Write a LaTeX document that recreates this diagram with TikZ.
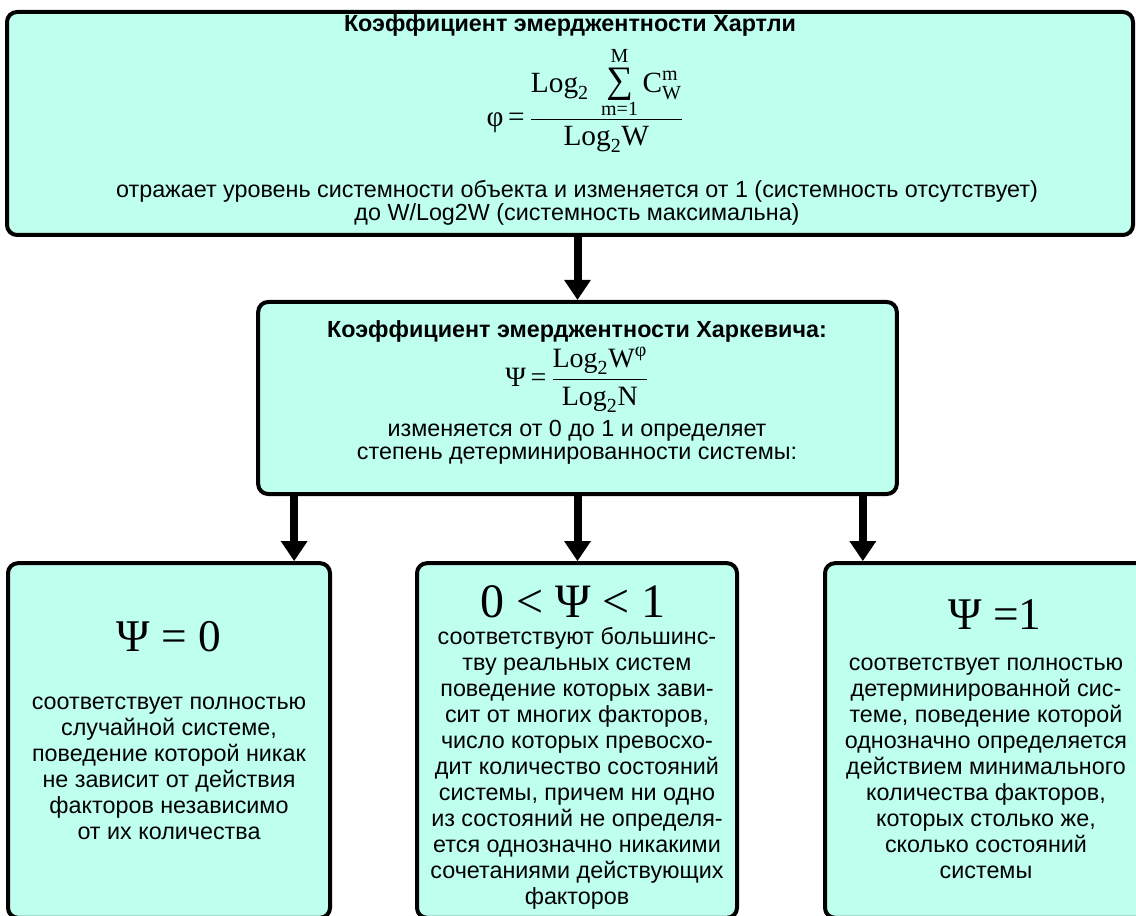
\documentclass[tikz,border=0pt]{standalone}
\usepackage{fontspec}
\setmainfont{Liberation Sans}
\newfontfamily\tnr{Liberation Serif}
\usetikzlibrary{arrows.meta}

\definecolor{boxfill}{RGB}{190,255,238}
\newcommand\tn[1]{\mbox{\tnr #1}}
\newcommand\sub[1]{\mbox{\tnr\fontsize{15}{17}\selectfont #1}}
\newcommand\sumsign{\mbox{\tnr\fontsize{28}{30}\selectfont ∑}}

\tikzset{every picture/.style={line width=0.75pt}}

\begin{document}
\begin{tikzpicture}[x=0.75pt,y=0.75pt,yscale=-1,xscale=1,
  box/.style={draw, line width=3pt, fill=boxfill, rounded corners=7.5pt, inner sep=0pt},
  head/.style={font=\bfseries\fontsize{17.5}{20}\selectfont, inner sep=0pt},
  txt/.style={align=center, font=\fontsize{17.5}{17}\selectfont, inner sep=0pt},
  body/.style={align=center, font=\fontsize{17.5}{19.5}\selectfont, inner sep=0pt},
  frm/.style={font=\tnr\fontsize{22}{26}\selectfont, inner sep=0pt},
  big/.style={font=\tnr\fontsize{34}{40}\selectfont, inner sep=0pt},
  arr/.style={line width=6pt, -{Triangle[width=19pt,length=15pt]}}
]
\useasboundingbox (0,0) rectangle (1136,916);

% Boxes
\node[box, minimum width=844.5pt, minimum height=167.25pt] (hartley) at (570,123.5) {};
\node[box, minimum width=479pt, minimum height=144pt] (kharkevich) at (577.5,398) {};
\node[box, minimum width=241.5pt, minimum height=266pt] (zero) at (169,740.5) {};
\node[box, minimum width=240pt, minimum height=266pt] (between) at (577,740.5) {};
\node[box, minimum width=241.5pt, minimum height=266pt] (one) at (986,740.5) {};

% Hartley
\node[head] (hartleytitle) at (570,25) {Коэффициент эмерджентности Хартли};
\node[frm] (hartleyformula) at (585,100)
  {$\displaystyle \tn{φ}\,\tn{=}\,\frac{\tn{Log}_{\sub{2}}\;\mathop{\sumsign}\limits^{\raisebox{2.5pt}{\sub{M}}}_{\raisebox{-1pt}{\sub{m=1}}}\tn{C}^{\sub{m}}_{\sub{W}}}{\tn{Log}_{\sub{2}}\tn{W}}$};
\node[txt] (hartleytext) at (577,203)
  {отражает уровень системности объекта и изменяется от 1 (системность отсутствует)\\до W/Log2W (системность максимальна)};

% Kharkevich
\node[head] (kharkevichtitle) at (577,331) {Коэффициент эмерджентности Харкевича:};
\node[frm, font=\tnr\fontsize{21}{24}\selectfont] (kharkevichformula) at (577,380)
  {$\displaystyle \tn{Ψ}\,\tn{=}\,\frac{\tn{Log}_{\sub{2}}\tn{W}^{\sub{φ}}}{\tn{Log}_{\sub{2}}\tn{N}}$};
\node[txt] (kharkevichtext) at (577,442)
  {изменяется от 0 до 1 и определяет\\степень детерминированности системы:};

% Cases
\node[big] (zerovalue) at (169,637) {Ψ = 0};
\node[body] (zerotext) at (169,768)
  {соответствует полностью\\случайной системе,\\поведение которой никак\\не зависит от действия\\факторов независимо\\от их количества};

\node[big, font=\tnr\fontsize{36}{40}\selectfont] (betweenvalue) at (573,602) {0\hspace{0.25em}<\hspace{0.25em}Ψ\hspace{0.25em}<\hspace{0.25em}1};
\node[body] (betweentext) at (577,768)
  {соответствуют большинс-\\тву реальных систем\\поведение которых зави-\\сит от многих факторов,\\число которых превосхо-\\дит количество состояний\\системы, причем ни одно\\из состояний не определя-\\ется однозначно никакими\\сочетаниями действующих\\факторов};

\node[big] (onevalue) at (995,615) {Ψ =1};
\node[body] (onetext) at (986,768)
  {соответствует полностью\\детерминированной сис-\\теме, поведение которой\\однозначно определяется\\действием минимального\\количества факторов,\\которых столько же,\\сколько состояний\\системы};

% Arrows
\coordinate (leftout) at ([xshift=28.5pt]kharkevich.south west);
\coordinate (rightout) at ([xshift=-27pt]kharkevich.south east);
\draw[arr] (kharkevich.north |- hartley.south) -- (kharkevich.north);
\draw[arr] (leftout) -- (leftout |- zero.north);
\draw[arr] (kharkevich.south) -- (kharkevich.south |- between.north);
\draw[arr] (rightout) -- (rightout |- one.north);

\end{tikzpicture}
\end{document}
